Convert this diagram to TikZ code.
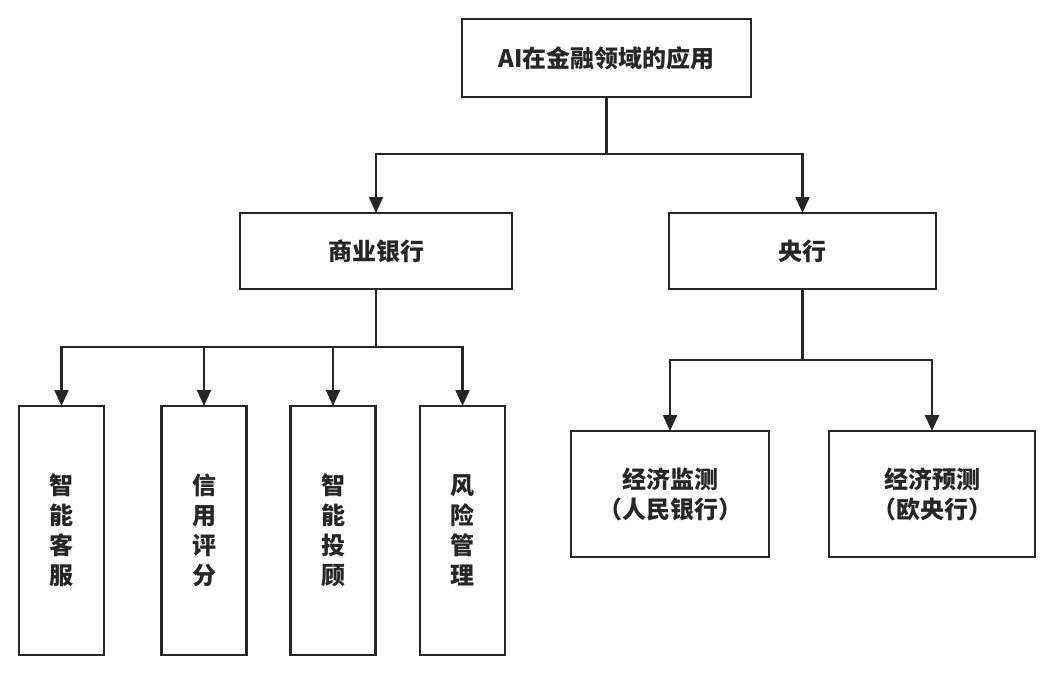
\documentclass[tikz,border=0pt]{standalone}
\usepackage{fontspec}
\newfontfamily\cjk{Noto Sans CJK SC}
\usetikzlibrary{arrows.meta}
\newcommand{\stacklabel}[4]{#1\\#2\\#3\\#4}

\begin{document}
\begin{tikzpicture}[x = 1pt, y = -1pt, every node/.style = {draw = black!85, line width = 2.2pt, inner sep = 0pt, outer sep = 0pt, align = center, text = black!85, font = \cjk\bfseries\fontsize{24}{30}\selectfont}, leaf/.style = {minimum width = 85pt, minimum height = 249pt}, link/.style = {draw = black!85, line width = 2.2pt}, arrowlink/.style = {link, -{Triangle[length = 16pt, width = 14pt]}}]
	\useasboundingbox (0, 0) rectangle (1052, 674);
	\node (root) at (606.5, 58) [minimum width = 289pt, minimum height = 78pt] {AI在金融领域的应用};
	\node (cb) at (376, 251) [minimum width = 272pt, minimum height = 76pt] {商业银行};
	\node (pboc) at (802.5, 251) [minimum width = 267pt, minimum height = 76pt] {央行};

	\node (kefu) at (61.5, 530.5) [leaf] {\stacklabel{智}{能}{客}{服}};
	\node (xinyong) at (204, 530.5) [leaf] {\stacklabel{信}{用}{评}{分}};
	\node (tougu) at (333, 530.5) [leaf] {\stacklabel{智}{能}{投}{顾}};
	\node (fengxian) at (462.5, 530.5) [leaf] {\stacklabel{风}{险}{管}{理}};

	\node (jiance) at (670, 494) [minimum width = 198pt, minimum height = 126pt] {经济监测\\（人民银行）};
	\node (yuce) at (932, 494) [minimum width = 206pt, minimum height = 126pt] {经济预测\\（欧央行）};

	\draw[link] (root.south) -- ++(0, 57) coordinate (rootbus);
	\foreach \to in {cb, pboc}
		\draw[arrowlink] (rootbus) -| (\to.north);

	\draw[link] (cb.south) -- ++(0, 58) coordinate (cbbus);
	\foreach \to in {kefu, xinyong, tougu, fengxian}
		\draw[arrowlink] (cbbus) -| (\to.north);

	\draw[link] (pboc.south) -- ++(0, 71) coordinate (pbocbus);
	\foreach \to in {jiance, yuce}
		\draw[arrowlink] (pbocbus) -| (\to.north);
\end{tikzpicture}
\end{document}
